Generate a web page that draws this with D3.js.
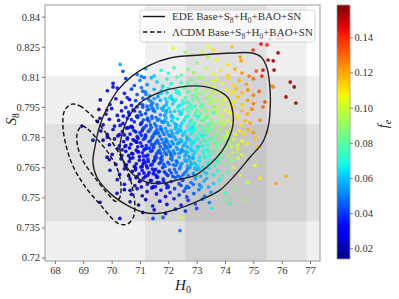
<!DOCTYPE html>
<html>
<head>
<meta charset="utf-8">
<script src="https://cdn.jsdelivr.net/npm/d3@7"></script>
<style>
body { margin: 0; background: #fff; }
text { font-family: "Liberation Serif", "DejaVu Serif", serif; }
</style>
</head>
<body>
<svg id="chart" width="399" height="299"></svg>
<script>
// ---- data ----
const h0Ticks = [68, 69, 70, 71, 72, 73, 74, 75, 76, 77];
const s8Ticks = [0.72, 0.735, 0.75, 0.765, 0.78, 0.795, 0.81, 0.825, 0.84];
const feTicks = [0.02, 0.04, 0.06, 0.08, 0.10, 0.12, 0.14];

// priors drawn as grey bands (2 sigma, 1 sigma)
const h0Bands = [[71.18, 76.88], [72.6, 75.47]];
const s8Bands = [[0.7135, 0.8105], [0.738, 0.7865]];

// contours [H0, S8]
const edeOuter = [[69.41,0.775],[69.59,0.786],[69.84,0.7945],[70.22,0.8034],[70.72,0.8104],[71.35,0.8159],[72.06,0.8194],[73.12,0.8209],[74.28,0.8219],[74.95,0.8219],[75.27,0.8199],[75.48,0.8144],[75.59,0.8034],[75.59,0.7935],[75.52,0.785],[75.31,0.777],[74.88,0.770],[74.35,0.761],[73.82,0.7536],[73.12,0.7486],[72.41,0.7446],[71.71,0.7421],[71.11,0.7426],[70.54,0.7461],[69.94,0.7521],[69.48,0.760],[69.34,0.7675]];
const edeInner = [[70.29,0.7735],[70.36,0.781],[70.58,0.7895],[71.0,0.797],[71.71,0.8024],[72.41,0.8049],[73.12,0.8054],[73.72,0.8034],[74.11,0.7995],[74.28,0.792],[74.28,0.786],[74.14,0.7795],[73.89,0.773],[73.47,0.7665],[72.94,0.761],[72.41,0.759],[71.78,0.757],[71.25,0.7575],[70.75,0.7615],[70.44,0.7675]];
const lcdmOuter = [[68.60,0.7964],[68.88,0.7955],[69.31,0.7905],[69.80,0.782],[70.26,0.772],[70.58,0.7625],[70.75,0.7536],[70.82,0.745],[70.75,0.7396],[70.54,0.7366],[70.22,0.7371],[69.59,0.7465],[69.06,0.7555],[68.64,0.7655],[68.39,0.776],[68.28,0.786],[68.35,0.7935]];
const lcdmInner = [[68.95,0.7855],[69.16,0.784],[69.52,0.7785],[69.94,0.771],[70.22,0.7635],[70.33,0.756],[70.29,0.750],[70.15,0.748],[69.94,0.7505],[69.48,0.7585],[69.02,0.7675],[68.81,0.775],[68.78,0.7814]];

// MCMC samples [H0, S8, f_e]
const chainPoints = [
// top sparse
[70.3,.8162,.056],[72.17,.8244,.105],[72.59,.8224,.09],[72.84,.8209,.092],[73.2,.8225,.1],[73.4,.8249,.105],[73.58,.8234,.11],[73.0,.817,.088],[73.7,.8185,.105],[74.1,.816,.11],[74.25,.825,.115],[74.53,.8199,.122],[74.57,.818,.12],[73.4,.82,.096],
[74.99,.8234,.14],[75.27,.8264,.145],[75.52,.8184,.152],[75.87,.822,.155],[75.7,.818,.155],[75.73,.8134,.155],[75.34,.8134,.145],[75.3,.8104,.14],[75.7,.805,.125],[75.66,.8054,.125],
[76.3,.8074,.155],[76.44,.805,.156],[76.15,.80,.155],[76.5,.797,.158],[75.41,.7975,.135],[75.34,.795,.13],[75.24,.7885,.125],[75.48,.7825,.12],[75.06,.7795,.115],[75.13,.775,.115],
[75.59,.8289,.14],[75.87,.8294,.145],[76.01,.8294,.14],[75.48,.8259,.14],
// 0.810 - 0.815
[70.4,.8128,.042],[70.9,.8112,.048],[71.2,.8141,.055],[71.5,.8105,.06],[71.75,.8133,.068],[72.0,.8118,.07],[72.2,.8146,.078],[72.45,.8109,.08],[72.7,.8137,.088],[72.9,.8121,.09],[73.15,.8102,.095],[73.35,.8144,.1],[73.6,.8115,.102],[73.85,.8131,.11],[74.1,.8107,.112],[74.35,.8139,.118],[74.6,.8119,.122],[74.85,.8104,.127],[75.1,.8129,.133],[71.05,.8103,.05],
// 0.805 - 0.810
[70.05,.8068,.03],[70.5,.8092,.038],[70.8,.8057,.042],[71.0,.8083,.05],[71.25,.8061,.052],[71.4,.8096,.058],[71.6,.8075,.062],[71.8,.8054,.064],[71.95,.8089,.07],[72.1,.8066,.068],[72.3,.8098,.076],[72.45,.8071,.074],[72.6,.8052,.077],[72.8,.8086,.085],[72.95,.8063,.084],[73.1,.8094,.092],[73.3,.8072,.094],[73.5,.8055,.095],[73.7,.8088,.104],[73.9,.8067,.106],[74.1,.8093,.112],[74.3,.8059,.112],[74.5,.8081,.118],[74.75,.8064,.122],[75.0,.8091,.13],[71.15,.8097,.047],[72.7,.8069,.08],[73.6,.8079,.1],
// 0.800 - 0.805
[69.85,.8031,.025],[70.2,.8044,.03],[70.45,.8018,.035],[70.7,.8039,.04],[70.9,.8012,.043],[71.05,.8047,.048],[71.2,.8025,.05],[71.35,.8006,.05],[71.5,.8038,.057],[71.65,.8015,.058],[71.8,.8049,.065],[71.95,.8022,.064],[72.1,.8004,.064],[72.25,.8036,.07],[72.4,.8013,.07],[72.55,.8045,.077],[72.7,.8027,.078],[72.85,.8008,.079],[73.0,.8041,.087],[73.15,.8019,.088],[73.3,.8033,.092],[73.45,.8005,.092],[73.6,.8046,.1],[73.75,.8024,.1],[73.9,.8011,.102],[74.05,.8037,.108],[74.2,.8016,.11],[74.4,.8042,.116],[74.6,.8021,.118],[74.8,.8035,.124],[75.0,.8009,.126],[75.2,.8028,.132],[71.1,.8029,.045],[71.75,.8031,.06],[72.3,.8021,.067],[72.95,.8033,.083],[73.55,.8026,.096],[70.05,.805,.028],[72.0,.8043,.068],[74.3,.8027,.112],
// 0.795 - 0.800
[69.6,.7985,.022],[69.94,.7962,.026],[70.15,.7991,.029],[70.35,.7973,.032],[70.55,.7997,.036],[70.7,.7958,.036],[70.85,.7982,.04],[71.0,.7966,.043],[71.1,.7994,.047],[71.25,.7954,.046],[71.38,.7978,.05],[71.5,.7992,.055],[71.6,.7961,.052],[71.72,.7984,.058],[71.85,.7953,.057],[71.95,.7976,.061],[72.05,.7995,.066],[72.15,.7965,.062],[72.27,.7987,.068],[72.38,.7957,.065],[72.5,.7979,.07],[72.6,.7996,.075],[72.72,.7968,.073],[72.85,.7988,.078],[72.95,.7955,.076],[73.08,.7981,.084],[73.2,.7963,.084],[73.33,.7993,.09],[73.45,.7971,.09],[73.6,.7952,.09],[73.72,.7986,.098],[73.85,.7964,.098],[74.0,.7991,.105],[74.15,.7959,.104],[74.3,.7977,.11],[74.45,.7998,.116],[74.6,.7962,.114],[74.8,.7983,.122],[75.0,.7967,.126],[71.45,.7969,.051],[71.9,.7991,.062],[72.45,.7961,.066],[73.0,.7994,.082],[73.55,.7975,.093],[70.9,.7951,.038],[72.2,.7979,.065],[72.8,.7958,.074],[71.3,.7988,.049],[73.9,.7981,.1],
// 0.790 - 0.795
[69.55,.7938,.02],[69.8,.7915,.024],[70.0,.7942,.027],[70.2,.7908,.028],[70.35,.7931,.031],[70.5,.7947,.034],[70.62,.7912,.033],[70.75,.7936,.037],[70.88,.7904,.036],[71.0,.7925,.04],[71.1,.7949,.044],[71.2,.7917,.042],[71.32,.7939,.047],[71.42,.7903,.044],[71.52,.7928,.05],[71.62,.7946,.055],[71.72,.7911,.052],[71.82,.7934,.057],[71.92,.7921,.058],[72.02,.7944,.063],[72.12,.7906,.058],[72.22,.7929,.063],[72.32,.7948,.068],[72.42,.7914,.064],[72.52,.7937,.07],[72.62,.7902,.067],[72.72,.7926,.072],[72.82,.7943,.077],[72.92,.7909,.074],[73.02,.7932,.08],[73.14,.7918,.082],[73.26,.7941,.087],[73.38,.7907,.085],[73.5,.7933,.092],[73.62,.7919,.093],[73.75,.7945,.1],[73.88,.7912,.098],[74.0,.7936,.104],[74.15,.7922,.106],[74.3,.7947,.113],[74.45,.7905,.11],[74.6,.7931,.117],[74.78,.7916,.12],[74.95,.7939,.126],[71.05,.7911,.041],[71.47,.7933,.048],[71.77,.7942,.056],[72.07,.7925,.06],[72.37,.7931,.066],[72.67,.7946,.073],[72.97,.7921,.077],[73.32,.7928,.086],[70.6,.7924,.034],[71.25,.7935,.045],[71.87,.7908,.054],[72.47,.7924,.066],[73.08,.7904,.079],[73.7,.7927,.095],[74.25,.7914,.108],[69.59,.7894,.02],[69.83,.7935,.022],
// 0.785 - 0.790
[69.5,.7878,.02],[69.7,.7861,.022],[69.92,.7889,.025],[70.1,.7855,.027],[70.25,.7883,.03],[70.4,.7868,.031],[70.55,.7895,.035],[70.67,.7852,.033],[70.8,.7876,.036],[70.92,.7898,.04],[71.02,.7863,.039],[71.12,.7886,.042],[71.22,.7857,.041],[71.32,.7879,.045],[71.42,.7893,.048],[71.52,.7866,.047],[71.62,.7884,.05],[71.72,.7851,.049],[71.82,.7873,.053],[71.92,.7896,.058],[72.02,.7859,.055],[72.12,.7881,.06],[72.22,.7869,.06],[72.32,.7891,.065],[72.42,.7854,.061],[72.52,.7877,.066],[72.62,.7899,.071],[72.72,.7862,.068],[72.82,.7885,.073],[72.92,.7871,.074],[73.02,.7893,.079],[73.12,.7856,.076],[73.24,.7879,.082],[73.36,.7864,.083],[73.48,.7888,.088],[73.6,.7853,.087],[73.72,.7875,.092],[73.84,.7897,.098],[73.96,.7861,.097],[74.1,.7883,.103],[74.25,.7867,.106],[74.4,.7892,.112],[74.55,.7858,.111],[74.72,.7881,.117],[74.88,.787,.12],[71.07,.7874,.04],[71.37,.7861,.044],[71.67,.7889,.051],[71.97,.7872,.056],[72.27,.7857,.058],[72.57,.7886,.066],[72.87,.7861,.071],[73.17,.7884,.08],[73.55,.7872,.087],[70.7,.7887,.036],[71.27,.7895,.046],[71.57,.7855,.046],[71.87,.7882,.055],[72.17,.7897,.062],[72.47,.7866,.063],[72.77,.7879,.07],[73.3,.7898,.085],[73.9,.7876,.097],[70.3,.7858,.029],[68.95,.7855,.025],
// 0.780 - 0.785
[69.62,.7831,.02],[69.85,.7812,.023],[70.05,.7838,.025],[70.22,.7806,.026],[70.38,.7827,.029],[70.52,.7845,.032],[70.65,.7815,.032],[70.78,.7834,.035],[70.9,.7803,.034],[71.0,.7822,.037],[71.1,.7841,.04],[71.2,.7811,.039],[71.3,.7829,.042],[71.4,.7848,.046],[71.5,.7816,.044],[71.6,.7837,.048],[71.7,.7805,.046],[71.8,.7825,.05],[71.9,.7843,.054],[72.0,.7813,.052],[72.1,.7832,.056],[72.2,.7801,.054],[72.3,.7821,.058],[72.4,.7839,.062],[72.5,.7809,.06],[72.6,.7828,.064],[72.7,.7846,.068],[72.8,.7817,.066],[72.9,.7835,.07],[73.0,.7804,.069],[73.1,.7823,.073],[73.22,.7842,.078],[73.34,.7812,.077],[73.46,.7831,.082],[73.58,.7849,.087],[73.7,.7818,.086],[73.82,.7836,.091],[73.95,.7807,.092],[74.08,.7826,.097],[74.22,.7844,.103],[74.36,.7814,.103],[74.5,.7833,.108],[74.66,.7819,.112],[74.82,.7838,.117],[75.0,.7824,.122],[71.05,.7809,.037],[71.35,.7836,.043],[71.65,.7821,.047],[71.95,.7829,.053],[72.25,.7843,.059],[72.55,.7818,.061],[72.85,.7827,.068],[73.15,.7808,.07],[73.4,.7846,.082],[70.85,.7826,.034],[71.15,.7847,.041],[71.45,.7804,.042],[71.75,.7841,.05],[72.05,.7806,.051],[72.35,.7826,.058],[72.65,.7803,.061],[72.95,.7841,.072],[73.28,.7829,.077],[73.65,.7805,.083],[70.45,.7811,.028],[71.55,.7827,.045],[71.85,.7814,.049],[72.15,.7819,.055],[72.45,.7831,.06],[72.75,.7836,.066],[69.34,.7785,.022],
// 0.775 - 0.780
[69.7,.7785,.02],[69.92,.7762,.022],[70.1,.7791,.024],[70.27,.7757,.025],[70.42,.7778,.028],[70.56,.7796,.031],[70.68,.7764,.03],[70.8,.7783,.033],[70.92,.7752,.032],[71.02,.7771,.035],[71.12,.7789,.038],[71.22,.7758,.037],[71.32,.7777,.04],[71.42,.7795,.043],[71.52,.7766,.042],[71.62,.7784,.045],[71.72,.7753,.044],[71.82,.7772,.048],[71.92,.7791,.051],[72.02,.7761,.05],[72.12,.7779,.053],[72.22,.7798,.057],[72.32,.7767,.055],[72.42,.7786,.058],[72.52,.7755,.057],[72.62,.7774,.061],[72.72,.7793,.065],[72.82,.7763,.063],[72.92,.7781,.067],[73.02,.7751,.066],[73.14,.7769,.07],[73.26,.7788,.074],[73.38,.7758,.073],[73.5,.7776,.078],[73.62,.7795,.083],[73.75,.7765,.082],[73.88,.7783,.087],[74.02,.7754,.088],[74.16,.7772,.093],[74.3,.7791,.099],[74.45,.7761,.1],[74.6,.7779,.106],[74.78,.7768,.11],[71.07,.7755,.034],[71.37,.7782,.04],[71.67,.7769,.045],[71.97,.7776,.05],[72.27,.7788,.055],[72.57,.7764,.058],[72.87,.7772,.064],[73.2,.7754,.068],[73.45,.7792,.078],[70.87,.7776,.033],[71.17,.7794,.039],[71.47,.7751,.04],[71.77,.7789,.047],[72.07,.7753,.048],[72.37,.7772,.055],[72.67,.7751,.058],[72.97,.7788,.068],[73.32,.7779,.074],[73.7,.7753,.08],[70.5,.7758,.027],[71.57,.7776,.043],[71.87,.7761,.046],[72.17,.7766,.052],[72.47,.7779,.057],[72.77,.7783,.063],[74.0,.7794,.092],[69.85,.7799,.021],
// 0.770 - 0.775
[69.84,.77,.02],[70.02,.7714,.022],[70.2,.7742,.023],[70.36,.7708,.024],[70.5,.7729,.027],[70.63,.7746,.029],[70.75,.7717,.029],[70.87,.7735,.031],[70.98,.7703,.031],[71.08,.7722,.034],[71.18,.7741,.036],[71.28,.7711,.036],[71.38,.7729,.039],[71.48,.7748,.042],[71.58,.7716,.041],[71.68,.7734,.044],[71.78,.7705,.043],[71.88,.7724,.047],[71.98,.7743,.05],[72.08,.7712,.048],[72.18,.7731,.052],[72.28,.7749,.056],[72.38,.7719,.054],[72.48,.7737,.058],[72.58,.7706,.056],[72.68,.7725,.06],[72.78,.7744,.064],[72.88,.7713,.062],[72.98,.7732,.066],[73.1,.7701,.065],[73.22,.772,.069],[73.34,.7739,.074],[73.46,.7709,.073],[73.58,.7727,.077],[73.7,.7746,.082],[73.84,.7715,.082],[73.98,.7734,.087],[74.12,.7704,.088],[74.28,.7723,.094],[74.45,.7741,.1],[74.6,.7712,.102],[71.13,.7706,.033],[71.43,.7733,.039],[71.73,.772,.043],[72.03,.7728,.048],[72.33,.7739,.054],[72.63,.7716,.057],[72.93,.7723,.063],[73.28,.7704,.067],[70.93,.7726,.03],[71.23,.7745,.037],[71.53,.7702,.038],[71.83,.774,.046],[72.13,.7704,.047],[72.43,.7723,.053],[72.73,.7702,.056],[73.05,.7742,.067],[73.4,.773,.072],[73.78,.7702,.077],[70.6,.7708,.026],[71.63,.7725,.042],[71.93,.7714,.045],[72.23,.7718,.05],[72.53,.7731,.055],[72.83,.7735,.061],[74.46,.7695,.1],
// 0.765 - 0.770
[69.92,.7688,.02],[70.15,.7664,.021],[70.33,.7692,.022],[70.48,.7659,.024],[70.62,.7679,.026],[70.75,.7697,.028],[70.87,.7667,.028],[70.98,.7685,.03],[71.08,.7654,.03],[71.18,.7673,.033],[71.28,.7691,.035],[71.38,.7661,.035],[71.48,.7679,.038],[71.58,.7698,.041],[71.68,.7668,.04],[71.78,.7686,.043],[71.88,.7655,.042],[71.98,.7674,.046],[72.08,.7693,.049],[72.18,.7662,.047],[72.28,.7681,.051],[72.38,.7699,.055],[72.48,.7669,.053],[72.58,.7687,.057],[72.68,.7656,.055],[72.78,.7675,.059],[72.88,.7694,.063],[72.98,.7663,.061],[73.1,.7682,.065],[73.22,.7651,.064],[73.35,.767,.068],[73.48,.7689,.073],[73.62,.7658,.072],[73.76,.7677,.077],[73.9,.7696,.083],[74.05,.7665,.083],[74.22,.7684,.089],[74.28,.765,.095],[71.13,.7685,.032],[71.43,.7664,.036],[71.73,.7677,.041],[72.03,.7666,.045],[72.33,.7672,.05],[72.63,.768,.055],[72.93,.7671,.06],[73.3,.7695,.069],[70.8,.7654,.027],[71.23,.7657,.032],[71.53,.7692,.039],[71.83,.7666,.043],[72.13,.7687,.048],[72.43,.7655,.051],[72.73,.769,.059],[73.05,.7655,.062],[73.7,.7683,.076],[75.06,.766,.105],
// 0.760 - 0.765
[69.94,.7635,.02],[70.28,.7614,.021],[70.45,.7642,.022],[70.6,.7608,.023],[70.73,.7629,.025],[70.85,.7646,.027],[70.97,.7617,.027],[71.08,.7635,.029],[71.2,.7604,.029],[71.32,.7623,.032],[71.44,.7641,.035],[71.56,.7611,.034],[71.68,.7629,.037],[71.8,.7648,.04],[71.92,.7618,.039],[72.04,.7636,.042],[72.16,.7605,.041],[72.28,.7624,.045],[72.4,.7643,.049],[72.52,.7612,.047],[72.64,.7631,.051],[72.76,.7649,.055],[72.88,.7619,.053],[73.0,.7637,.057],[73.14,.7606,.056],[73.28,.7625,.061],[73.42,.7644,.066],[73.58,.7613,.065],[73.74,.7632,.07],[73.9,.7607,.073],[74.08,.7626,.078],[74.53,.761,.1],[71.14,.7621,.028],[71.5,.7633,.034],[71.86,.7627,.039],[72.22,.7639,.045],[72.58,.7622,.049],[72.94,.7644,.057],[73.35,.7618,.062],[70.9,.7603,.026],[71.26,.7647,.032],[71.62,.7602,.033],[71.98,.7609,.038],[72.34,.7606,.043],[72.7,.7608,.048],[73.08,.764,.059],
// 0.755 - 0.760
[70.2,.7588,.02],[70.45,.7565,.021],[70.65,.7592,.023],[70.82,.7558,.024],[70.98,.7579,.026],[71.12,.7596,.028],[71.26,.7566,.028],[71.4,.7584,.031],[71.54,.7553,.03],[71.68,.7573,.034],[71.82,.7591,.037],[71.96,.7561,.036],[72.1,.7579,.04],[72.24,.7598,.044],[72.38,.7568,.042],[72.52,.7586,.046],[72.66,.7555,.045],[72.8,.7574,.049],[72.95,.7593,.054],[73.1,.7562,.052],[73.26,.7581,.057],[73.42,.7551,.057],[73.6,.7569,.062],[73.8,.7588,.068],[71.05,.7552,.025],[71.6,.7599,.034],[72.0,.7551,.035],[72.45,.7559,.041],[72.88,.7564,.048],[73.35,.7594,.058],
[74.35,.7545,.085],[74.78,.7575,.1],[75.24,.7595,.11],[74.8,.7575,.095],[75.8,.757,.12],[76.15,.7605,.118],
// 0.750 - 0.755
[70.45,.7538,.02],[70.7,.7515,.021],[70.9,.7543,.023],[71.08,.7508,.024],[71.25,.7529,.026],[71.42,.7547,.029],[71.58,.7517,.029],[71.74,.7536,.032],[71.9,.7504,.032],[72.06,.7524,.035],[72.22,.7543,.039],[72.38,.7512,.038],[72.55,.7531,.042],[72.72,.7549,.046],[72.9,.7519,.045],[73.08,.7538,.05],[73.28,.7506,.05],[73.5,.7526,.055],[71.95,.7548,.036],[72.65,.7502,.04],[74.0,.752,.075],[70.19,.752,.022],[70.65,.7535,.022],
// 0.745 - 0.750
[70.65,.7478,.02],[70.95,.7462,.022],[71.2,.7489,.024],[71.45,.7457,.025],[71.7,.7481,.028],[71.95,.7465,.03],[72.2,.7493,.034],[72.45,.7461,.035],[72.7,.7485,.039],[72.95,.7468,.042],[73.2,.7491,.047],[73.45,.7474,.05],[74.7,.7486,.09],[74.18,.747,.072],[74.04,.749,.08],[73.54,.7446,.068],[69.59,.7475,.025],
// lower tail
[71.1,.7425,.022],[71.5,.7438,.025],[71.9,.742,.028],[72.25,.7441,.033],[72.6,.7432,.036],[73.0,.7445,.042],[71.46,.7395,.04],[71.81,.74,.045],[72.48,.740,.1],[72.41,.7335,.048],[70.29,.7395,.025],
// extra samples in the dense core
[70.63,.7987,.031],[70.81,.7931,.034],[71.04,.7868,.037],[71.19,.7802,.038],[71.33,.7745,.037],[71.51,.7683,.036],[71.66,.7627,.035],[71.83,.7581,.036],
[70.71,.7852,.03],[70.93,.7794,.032],[71.14,.7736,.034],[71.29,.7679,.033],[71.47,.7618,.032],[71.61,.7573,.031],
[71.21,.8013,.049],[71.39,.7958,.048],[71.57,.7897,.048],[71.74,.7838,.048],[71.91,.7779,.048],[72.09,.7718,.047],[72.26,.7659,.047],[72.43,.7601,.047],[72.61,.7545,.046],
[71.76,.8019,.061],[71.93,.7962,.06],[72.11,.7903,.06],[72.28,.7842,.059],[72.46,.7785,.059],[72.63,.7726,.058],[72.81,.7664,.058],[72.98,.7608,.057],[73.16,.7552,.056],
[72.36,.8027,.072],[72.53,.7969,.071],[72.71,.7908,.071],[72.88,.7849,.07],[73.06,.7788,.07],[73.23,.7731,.069],[73.41,.7672,.069],[73.58,.7613,.068],
[72.96,.8012,.084],[73.13,.7951,.083],[73.31,.7893,.083],[73.48,.7834,.082],[73.66,.7775,.082],[73.83,.7718,.081],
[73.53,.7986,.094],[73.71,.7928,.094],[73.88,.7869,.094],[74.06,.7809,.096],[74.23,.7753,.096],
[70.41,.7905,.028],[70.58,.7846,.029],[70.76,.7788,.03],[70.94,.7727,.029],[71.11,.7668,.029],[71.28,.7611,.028],[71.46,.7552,.027],
[70.27,.7812,.025],[70.47,.7753,.026],[70.66,.7694,.025],[70.84,.7637,.025],[71.01,.7582,.024],
[70.86,.7598,.027],[71.03,.7651,.031],[71.22,.7706,.035],[71.41,.7763,.04],[71.58,.7818,.045],[71.77,.7877,.051],[71.94,.7932,.056],[72.13,.7989,.062],
[71.37,.7583,.032],[71.55,.7639,.036],[71.73,.7694,.041],[71.92,.7751,.046],[72.09,.7806,.052],[72.28,.7862,.057],[72.46,.7917,.063],[72.64,.7975,.069],
[71.92,.7567,.037],[72.1,.7622,.042],[72.29,.7679,.047],[72.47,.7735,.052],[72.66,.7791,.058],[72.84,.7847,.064],[73.03,.7904,.07],[73.21,.7959,.077],
[72.49,.7584,.044],[72.68,.7641,.05],[72.86,.7697,.055],[73.05,.7753,.061],[73.23,.7809,.067],[73.42,.7865,.073],[73.6,.7921,.08],
[70.52,.7662,.023],[70.71,.7719,.027],[70.89,.7775,.031],[71.08,.7832,.036],[71.26,.7888,.041],[71.45,.7944,.047],[71.63,.8001,.053],
[70.37,.7737,.024],[70.55,.7791,.028],[70.73,.7849,.032],[70.92,.7906,.037],[71.1,.7961,.042]
];

// ---- layout ----
const svg = d3.select("#chart");
const margin = { left: 45, top: 5, right: 320, bottom: 261 };

const x = d3.scaleLinear().domain([67.65, 77.35]).range([margin.left, margin.right]);
const y = d3.scaleLinear().domain([0.7183, 0.8458]).range([margin.bottom, margin.top]);
const cbScale = d3.scaleLinear().domain([0.0139, 0.1584]).range([259, 5]);

// matplotlib 'jet'
function jet(t) {
    t = Math.max(0, Math.min(1, t));
    let r = t < 0.35 ? 0 : t < 0.66 ? (t - 0.35) / 0.31 : t < 0.89 ? 1 : 1 - 0.5 * (t - 0.89) / 0.11;
    let g = t < 0.125 ? 0 : t < 0.375 ? (t - 0.125) / 0.25 : t < 0.64 ? 1 : t < 0.91 ? 1 - (t - 0.64) / 0.27 : 0;
    let b = t < 0.11 ? 0.5 + 0.5 * t / 0.11 : t < 0.34 ? 1 : t < 0.65 ? 1 - (t - 0.34) / 0.31 : 0;
    return d3.rgb(r * 255, g * 255, b * 255).toString();
}
const feNorm = d3.scaleLinear().domain(cbScale.domain()).range([0, 1]);
const colormap = v => jet(feNorm(v));

svg.append("defs").append("clipPath").attr("id", "plotclip")
    .append("rect")
    .attr("x", margin.left).attr("y", margin.top)
    .attr("width", margin.right - margin.left).attr("height", margin.bottom - margin.top);

let plot = svg.append("g").attr("clip-path", "url(#plotclip)");

// prior bands
plot.selectAll("rect.hband")
    .data(h0Bands)
    .enter()
    .append("rect")
    .attr("x", d => x(d[0]))
    .attr("width", d => x(d[1]) - x(d[0]))
    .attr("y", margin.top)
    .attr("height", margin.bottom - margin.top)
    .attr("fill", "#000")
    .attr("fill-opacity", 0.06);

plot.selectAll("rect.sband")
    .data(s8Bands)
    .enter()
    .append("rect")
    .attr("x", margin.left)
    .attr("width", margin.right - margin.left)
    .attr("y", d => y(d[1]))
    .attr("height", d => y(d[0]) - y(d[1]))
    .attr("fill", "#000")
    .attr("fill-opacity", 0.06);

// samples
plot.selectAll("circle")
    .data(chainPoints)
    .enter()
    .append("circle")
    .attr("cx", d => x(d[0]))
    .attr("cy", d => y(d[1]))
    .attr("r", 1.85)
    .attr("fill", d => colormap(d[2]))
    .attr("fill-opacity", 0.9);

// contours
let contourLine = d3.line()
    .x(d => x(d[0]))
    .y(d => y(d[1]))
    .curve(d3.curveCatmullRomClosed.alpha(0.5));

[edeOuter, edeInner].forEach(c => {
    plot.append("path").attr("d", contourLine(c))
        .attr("fill", "none").attr("stroke", "#222").attr("stroke-width", 1.4);
});
[lcdmOuter, lcdmInner].forEach(c => {
    plot.append("path").attr("d", contourLine(c))
        .attr("fill", "none").attr("stroke", "#111").attr("stroke-width", 1.4)
        .attr("stroke-dasharray", "4.5,2.5");
});

// frame
svg.append("rect")
    .attr("x", margin.left).attr("y", margin.top)
    .attr("width", margin.right - margin.left).attr("height", margin.bottom - margin.top)
    .attr("fill", "none").attr("stroke", "#aaa").attr("stroke-width", 1.2);

// axes
let xAxis = svg.append("g")
    .attr("transform", "translate(0," + margin.bottom + ")")
    .call(d3.axisBottom(x).tickValues(h0Ticks).tickFormat(d3.format("d")).tickSize(3).tickPadding(2.5));
let yAxis = svg.append("g")
    .attr("transform", "translate(" + margin.left + ",0)")
    .call(d3.axisLeft(y).tickValues(s8Ticks).tickFormat(d => String(+d.toFixed(3))).tickSize(3).tickPadding(2));

[xAxis, yAxis].forEach(a => {
    a.select(".domain").remove();
    a.selectAll(".tick line").attr("stroke", "#777");
    a.selectAll("text")
        .attr("fill", "#333")
        .style("font-family", "'Liberation Serif', serif")
        .style("font-size", "10.5px");
});

// colorbar
let grad = svg.select("defs").append("linearGradient")
    .attr("id", "jetgrad")
    .attr("x1", 0).attr("y1", 1).attr("x2", 0).attr("y2", 0);
d3.range(0, 1.0001, 0.02).forEach(t => {
    grad.append("stop").attr("offset", t).attr("stop-color", jet(t));
});
svg.append("rect")
    .attr("x", 337).attr("y", cbScale.range()[1])
    .attr("width", 13).attr("height", cbScale.range()[0] - cbScale.range()[1])
    .attr("fill", "url(#jetgrad)")
    .attr("stroke", "#999").attr("stroke-width", 0.8);

let cbAxis = svg.append("g")
    .attr("transform", "translate(350,0)")
    .call(d3.axisRight(cbScale).tickValues(feTicks).tickFormat(d3.format(".2f")).tickSize(3).tickPadding(1.5));
cbAxis.select(".domain").remove();
cbAxis.selectAll(".tick line").attr("stroke", "#777");
cbAxis.selectAll("text")
    .attr("fill", "#333")
    .style("font-family", "'Liberation Serif', serif")
    .style("font-size", "10.5px");

// axis labels
function subText(sel, parts, subSize) {
    parts.forEach((p, i) => {
        let t = sel.append("tspan").text(p[0]);
        if (p[1] == 1) t.attr("dy", 3).style("font-size", subSize);
        else if (i > 0 && parts[i - 1][1] == 1) t.attr("dy", -3);
        if (p[2]) t.style("font-style", "italic");
    });
}

let h0Label = svg.append("text")
    .attr("x", 183).attr("y", 290)
    .attr("text-anchor", "middle")
    .style("font-size", "15px").attr("fill", "#222");
subText(h0Label, [["H", 0, true], ["0", 1]], "10px");

let s8Label = svg.append("text")
    .attr("transform", "translate(16,119) rotate(-90)")
    .attr("text-anchor", "middle")
    .style("font-size", "14px").attr("fill", "#222");
subText(s8Label, [["S", 0, true], ["8", 1]], "9.5px");

let feLabel = svg.append("text")
    .attr("transform", "translate(388,124) rotate(-90)")
    .attr("text-anchor", "middle")
    .style("font-size", "14px").attr("fill", "#222");
subText(feLabel, [["f", 0, true], ["e", 1, true]], "10px");

// legend
let legend = svg.append("g");
legend.append("rect")
    .attr("x", 140).attr("y", 10).attr("width", 175).attr("height", 32)
    .attr("rx", 2.5)
    .attr("fill", "#fff").attr("fill-opacity", 0.8)
    .attr("stroke", "#ccc").attr("stroke-width", 0.8);

const legendItems = [
    { dash: null, parts: [["EDE Base+S", 0], ["8", 1], ["+H", 0], ["0", 1], ["+BAO+SN", 0]] },
    { dash: "4.5,2.5", parts: [["ΛCDM Base+S", 0], ["8", 1], ["+H", 0], ["0", 1], ["+BAO+SN", 0]] }
];
legendItems.forEach((item, i) => {
    let ly = 16.5 + i * 15.5;
    legend.append("line")
        .attr("x1", 143).attr("x2", 165).attr("y1", ly).attr("y2", ly)
        .attr("stroke", "#111").attr("stroke-width", 1.4)
        .attr("stroke-dasharray", item.dash);
    let t = legend.append("text")
        .attr("x", 172).attr("y", ly + 3.5)
        .style("font-size", "11px").attr("fill", "#333");
    subText(t, item.parts, "7.5px");
});
</script>
</body>
</html>
